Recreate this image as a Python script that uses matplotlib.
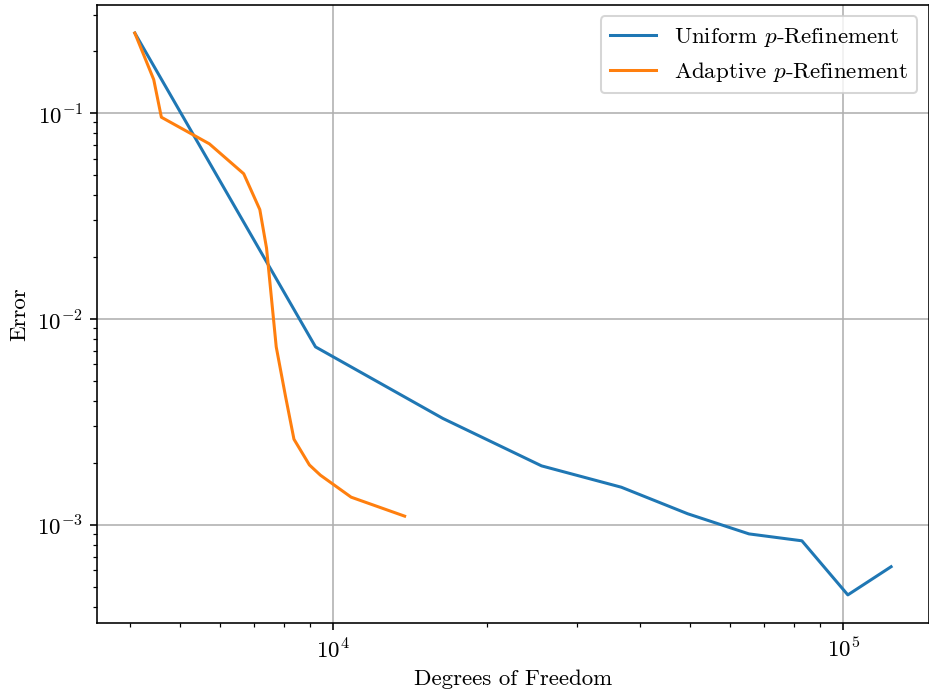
import matplotlib
matplotlib.use("Agg")
import matplotlib.pyplot as plt

plt.rcParams["font.family"] = "serif"
plt.rcParams["font.serif"] = ["cmr10"]
plt.rcParams["mathtext.fontset"] = "cm"
plt.rcParams["axes.formatter.use_mathtext"] = True
plt.rcParams["font.size"] = 11.4

# Uniform p-refinement
uniform_dofs = [4083, 9230, 16400, 25600, 36700, 49500, 65300, 82900, 102000, 124000]
uniform_err = [0.244, 0.00730, 0.00328, 0.00193, 0.00152, 0.00113, 0.000902, 0.000835, 0.000456, 0.000625]

# Adaptive p-refinement
adaptive_dofs = [4083, 4447, 4603, 5716, 6675, 7178, 7400, 7730, 8064, 8374, 8979, 9434, 10840, 13800]
adaptive_err = [0.244, 0.145, 0.0952, 0.0707, 0.0506, 0.0339, 0.0220, 0.0073, 0.00418, 0.00260, 0.00195, 0.00174, 0.00136, 0.00110]

fig, ax = plt.subplots(figsize=(6.4, 4.756), dpi=145.3)
ax.loglog(uniform_dofs, uniform_err, label=r"Uniform $p$-Refinement")
ax.loglog(adaptive_dofs, adaptive_err, label=r"Adaptive $p$-Refinement")
ax.set_xlabel("Degrees of Freedom")
ax.set_ylabel("Error")
ax.grid(True)
ax.legend(loc="upper right")

fig.subplots_adjust(left=97 / 930, right=929 / 930, top=1 - 5 / 691, bottom=1 - 623 / 691)
fig.savefig("out.png")
